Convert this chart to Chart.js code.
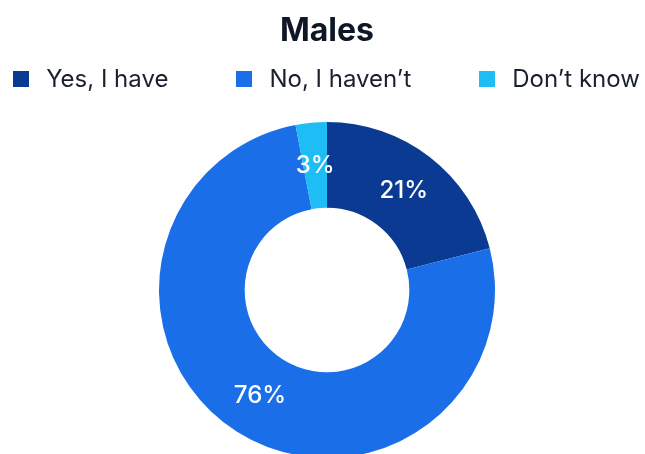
<!DOCTYPE html>
<html>
<head>
<meta charset="utf-8">
<script src="https://cdn.jsdelivr.net/npm/chart.js@4.4.1/dist/chart.umd.min.js"></script>
<style>
  html, body { margin: 0; padding: 0; background: #fff; overflow: hidden; }
  #wrap { position: relative; width: 645px; height: 458px; }
  #leyenda {
    position: absolute; top: 66px; left: 4px; width: 645px; height: 25px;
    display: flex; justify-content: center; align-items: center; gap: 68px;
    font-family: Inter, sans-serif; font-size: 24px;
    color: #1b2030; white-space: nowrap;
  }
  #leyenda .item { display: flex; align-items: center; }
  #leyenda .caja { width: 16px; height: 16px; margin-right: 17px; }
</style>
</head>
<body>
<div id="wrap">
  <canvas id="grafico"></canvas>
  <div id="leyenda"></div>
</div>
<script>
// datos de la encuesta
const titulo = 'Males';
const categorias = ['Yes, I have', 'No, I haven\u2019t', 'Don\u2019t know'];
const valores = [21, 76, 3];
const colores = ['#0a3a91', '#1a6fe8', '#1fbdf5'];

// etiquetas de porcentaje dentro de cada sector
const etiquetasSector = {
  id: 'etiquetasSector',
  afterDatasetsDraw(chart) {
    const ctx = chart.ctx;
    const meta = chart.getDatasetMeta(0);
    ctx.save();
    ctx.fillStyle = '#ffffff';
    ctx.font = '500 24px Inter';
    ctx.textAlign = 'center';
    ctx.textBaseline = 'middle';
    meta.data.forEach((arco, i) => {
      const pos = arco.tooltipPosition();
      ctx.fillText(valores[i] + '%', pos.x, pos.y);
    });
    ctx.restore();
  }
};

// leyenda en html, a partir de las etiquetas del grafico
const leyendaHtml = {
  id: 'leyendaHtml',
  afterUpdate(chart) {
    const cont = document.getElementById('leyenda');
    cont.innerHTML = '';
    const items = chart.options.plugins.legend.labels.generateLabels(chart);
    items.forEach((item) => {
      let div = document.createElement('DIV');
      div.classList.add('item');
      let caja = document.createElement('SPAN');
      caja.classList.add('caja');
      caja.style.background = item.fillStyle;
      let texto = document.createElement('SPAN');
      texto.textContent = item.text;
      div.appendChild(caja);
      div.appendChild(texto);
      cont.appendChild(div);
    });
  }
};

const ctx = document.getElementById('grafico');

new Chart(ctx, {
  type: 'doughnut',
  data: {
    labels: categorias,
    datasets: [
      {
        data: valores,
        backgroundColor: colores,
        borderWidth: 0,
      },
    ],
  },
  options: {
    responsive: true,
    maintainAspectRatio: false,
    animation: false,
    cutout: '49%',
    layout: {
      padding: { left: 9, right: 0, top: 0, bottom: 0 }
    },
    plugins: {
      title: {
        display: true,
        text: titulo,
        color: '#0f1626',
        font: { family: 'Inter', size: 32, weight: 'bold' },
        padding: { top: 12, bottom: 71.6 }
      },
      legend: { display: false },
      tooltip: { enabled: false }
    }
  },
  plugins: [etiquetasSector, leyendaHtml]
});
</script>
</body>
</html>
